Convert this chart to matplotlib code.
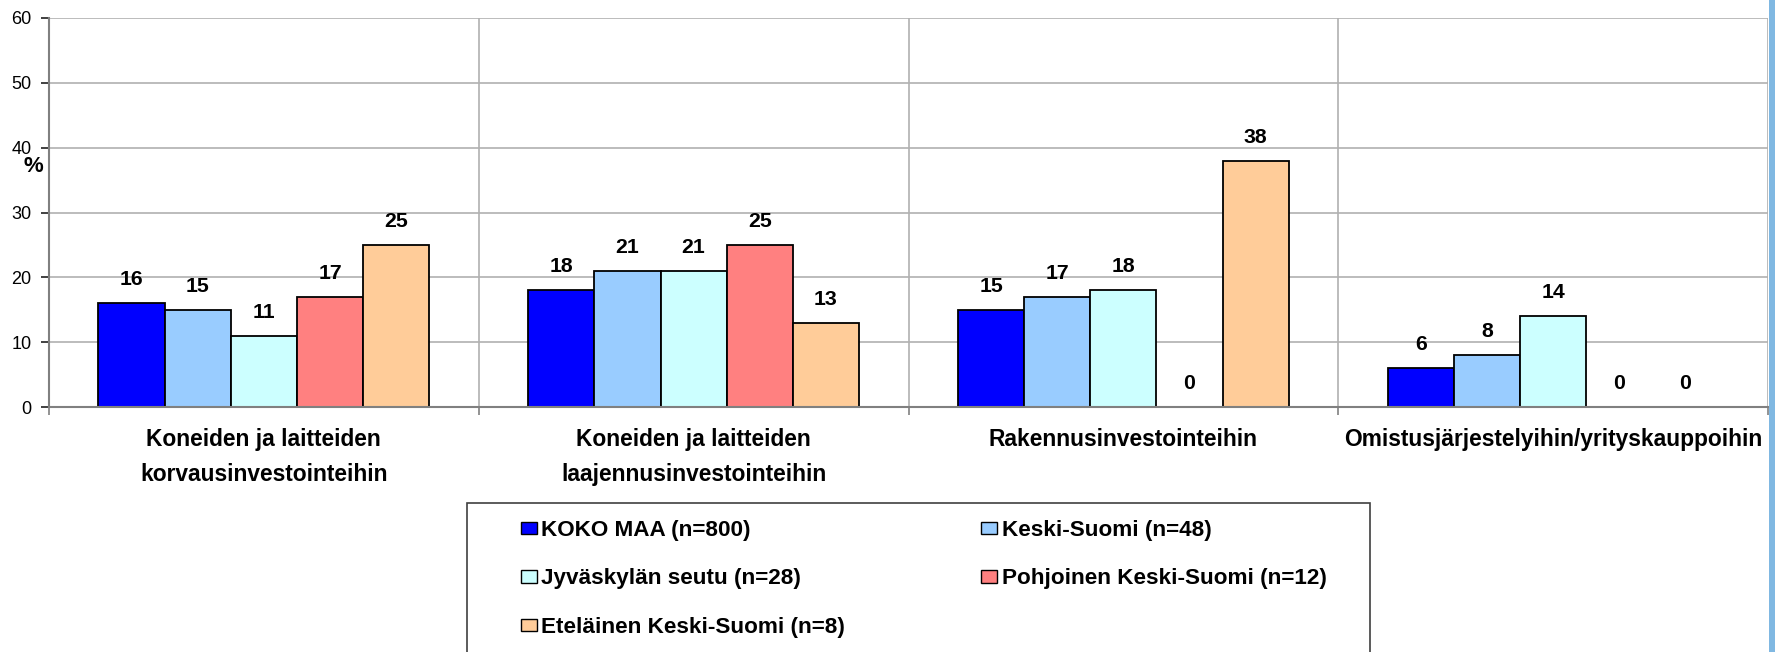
import matplotlib
matplotlib.use("Agg")
import matplotlib.pyplot as plt
from matplotlib.patches import Rectangle, Patch
import numpy as np

plt.rcParams['font.family'] = ['Liberation Sans', 'DejaVu Sans']

categories = ["Koneiden ja laitteiden\nkorvausinvestointeihin",
              "Koneiden ja laitteiden\nlaajennusinvestointeihin",
              "Rakennusinvestointeihin",
              "Omistusjärjestelyihin/yrityskauppoihin"]
series_names = ["KOKO MAA (n=800)", "Keski-Suomi (n=48)", "Jyväskylän seutu (n=28)",
                "Pohjoinen Keski-Suomi (n=12)", "Eteläinen Keski-Suomi (n=8)"]
koko_maa = [16, 18, 15, 6]
keski_suomi = [15, 21, 17, 8]
jyvaskyla = [11, 21, 18, 14]
pohjoinen = [17, 25, 0, 0]
etelainen = [25, 13, 38, 0]
yticks = [0, 10, 20, 30, 40, 50, 60]

series = [koko_maa, keski_suomi, jyvaskyla, pohjoinen, etelainen]
colors = ["#0000FF", "#99CCFF", "#CCFFFF", "#FF8080", "#FFCC99"]

W, H = 1775, 652
fig = plt.figure(figsize=(W / 100, H / 100), dpi=100)
ax = fig.add_axes([49 / W, 1 - 407 / H, (1768 - 49) / W, (407 - 18) / H])

x = np.arange(len(categories))
bw = 0.154
for i, (vals, col) in enumerate(zip(series, colors)):
    pos = x + (i - 2) * bw
    ax.bar(pos, vals, width=bw, color=col, edgecolor="black", linewidth=1.3, zorder=3)
    for p, v in zip(pos, vals):
        ax.annotate(str(v), (p, v), xytext=(0, 17), textcoords="offset points",
                    ha="center", va="center", fontsize=15.3, fontweight="bold", zorder=4)

ax.set_xlim(-0.5, 3.5)
ax.set_ylim(0, 60)
ax.set_yticks(yticks)
ax.set_yticklabels([str(t) for t in yticks])
ax.set_xticks(x)
ax.set_xticklabels(categories, fontweight="bold", linespacing=1.68)
ax.tick_params(axis="x", which="major", length=0, pad=15, labelsize=16.4)
ax.set_xticks(np.arange(-0.5, 4.0, 1.0), minor=True)
ax.tick_params(axis="x", which="minor", length=6, color="#808080", width=1.2)
ax.tick_params(axis="y", length=6, color="#202020", width=1.2, pad=6.5, labelsize=13)

ax.grid(axis="y", color="#b0b0b0", linewidth=1.2, zorder=0)
ax.grid(axis="x", which="minor", color="#b0b0b0", linewidth=1.2, zorder=0)
ax.grid(axis="x", which="major", visible=False)
for s in ["top", "right"]:
    ax.spines[s].set_visible(False)
ax.spines["left"].set_color("#808080")
ax.spines["left"].set_linewidth(1.5)
ax.spines["bottom"].set_color("#808080")
ax.spines["bottom"].set_linewidth(1.5)
ax.spines["left"].set_zorder(5)
ax.spines["bottom"].set_zorder(5)

fig.text(33 / W, 1 - 167 / H, "%", fontsize=16, fontweight="bold", ha="center", va="center")

# legend frame
fig.patches.append(Rectangle((467 / W, -0.05), (1370 - 467) / W, (1 - 503 / H) + 0.05,
                             transform=fig.transFigure, facecolor="none",
                             edgecolor="#404040", linewidth=1.2, zorder=-1))
# window border stripe at right edge
fig.patches.append(Rectangle((1769 / W, 0), 6 / W, 1, transform=fig.transFigure,
                             facecolor="#80b8e2", edgecolor="none", zorder=-1))

handles = [Patch(facecolor=c, edgecolor="black", linewidth=1.0) for c in colors]
order = [0, 2, 4, 1, 3]
fig.legend([handles[i] for i in order], [series_names[i] for i in order],
           loc="upper left", bbox_to_anchor=(521 / W, 1 - 520 / H), ncol=2,
           frameon=False, borderpad=0, borderaxespad=0,
           prop={"size": 16.2, "weight": "bold"},
           handlelength=0.72, handleheight=0.48, handletextpad=0.18,
           labelspacing=1.22, columnspacing=6.05)

fig.savefig("out.png", dpi=100)
